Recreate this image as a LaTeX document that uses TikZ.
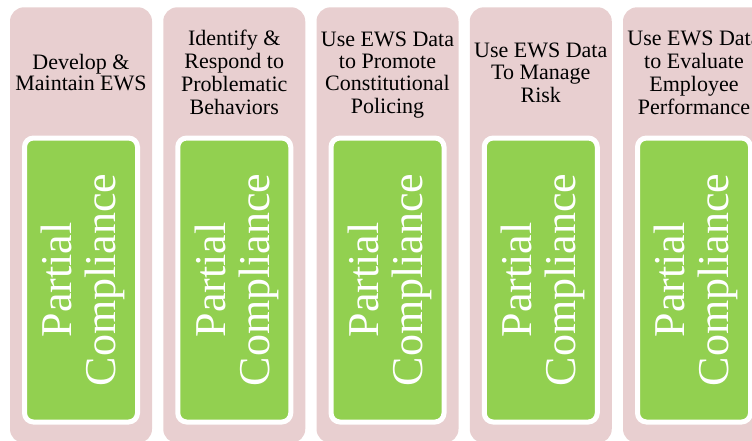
\documentclass[tikz,border=0pt]{standalone}
\usepackage{fontspec}
\setmainfont{Liberation Serif}
\definecolor{pinkbg}{HTML}{E8CFD0}
\definecolor{greenbox}{HTML}{92D050}
\tikzset{
  colbox/.style={fill=pinkbg, draw=none, rounded corners=14pt, minimum width=142pt, minimum height=435.7pt, inner sep=0pt, outer sep=0pt},
  gbox/.style={fill=greenbox, draw=white, line width=5pt, rounded corners=9pt, minimum width=113pt, minimum height=284pt, inner sep=0pt, outer sep=0pt},
  hdr/.style={align=center, font=\fontsize{22}{21.7}\selectfont, inner sep=0pt, text=black},
  gtxt/.style={align=center, rotate=90, text=white, font=\fontsize{44}{44}\selectfont, inner sep=0pt}
}
\begin{document}
\begin{tikzpicture}[x=1pt,y=1pt]
\useasboundingbox (0,0) rectangle (752,440);
\clip (0,0) rectangle (752,440);
\foreach \i/\t in {
  0/{\strut Develop \&\\\strut Maintain EWS},
  1/{\strut Identify \&\\\strut Respond to\\\strut Problematic\\\strut Behaviors},
  2/{\strut Use EWS Data\\\strut to Promote\\\strut Constitutional\\\strut Policing},
  3/{\strut Use EWS Data\\\strut To Manage\\\strut Risk},
  4/{\strut Use EWS Data\\\strut to Evaluate\\\strut Employee\\\strut Performance}} {
  \pgfmathsetmacro\L{10+153.25*\i}
  \node[colbox, anchor=north west] (col\i) at (\L,432.7) {};
  \node[hdr] (hdr\i) at (\L+71,364.4) {\t};
  \node[gbox] (g\i) at (\L+71,160) {};
  \node[gtxt] (gt\i) at (\L+75,160) {\strut Partial\\\strut Compliance};
}
\end{tikzpicture}
\end{document}
